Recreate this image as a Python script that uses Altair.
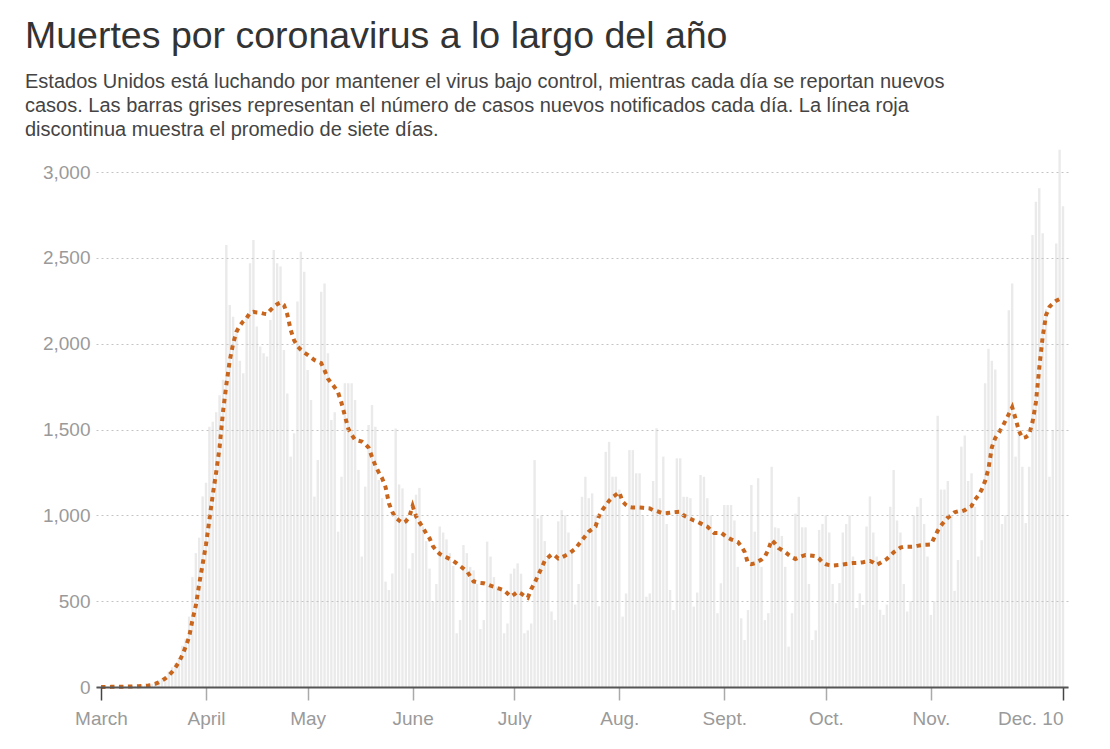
import json
import altair as alt
import pandas as pd

TITLE = "Muertes por coronavirus a lo largo del año"
SUBTITLE = [
    "Estados Unidos está luchando por mantener el virus bajo control, mientras cada día se reportan nuevos",
    "casos. Las barras grises representan el número de casos nuevos notificados cada día. La línea roja",
    "discontinua muestra el promedio de siete días.",
]

# x ticks: day index since March 1 and their labels
tick_days = [0, 31, 61, 92, 122, 153, 184, 214, 245, 284]
tick_labels = ["March", "April", "May", "June", "July", "Aug.", "Sept.", "Oct.", "Nov.", "Dec. 10"]
y_ticks = [0, 500, 1000, 1500, 2000, 2500, 3000]

# daily deaths, March 1 -> Dec 10 (one row per week, Sunday..Saturday)
daily_deaths = [
    0, 1, 1, 3, 2, 3, 2,
    3, 4, 6, 5, 8, 11, 9,
    12, 18, 23, 38, 52, 64, 90,
    115, 140, 170, 240, 280, 410, 640,
    780, 870, 1110, 1190, 1516, 1545, 1600,
    1700, 1790, 2575, 2225, 2157, 2060, 1900,
    1827, 2157, 2468, 2604, 2100, 1983, 1944,
    1925, 2138, 2545, 2468, 2449, 1963, 1710,
    1342, 1478, 2245, 2536, 2419, 1846, 1672,
    1109, 1322, 2303, 2351, 1944, 1555, 1600,
    905, 1225, 1770, 1770, 1770, 1672, 1264,
    760, 1167, 1526, 1643, 1516, 1206, 1100,
    614, 565, 661, 1506, 1180, 1157, 990,
    690, 780, 1120, 1160, 935, 850, 690,
    495, 600, 935, 900, 860, 780, 706,
    313, 390, 827, 780, 700, 680, 600,
    337, 390, 847, 760, 640, 585, 570,
    313, 370, 660, 690, 720, 660, 313,
    330, 370, 1322, 982, 1000, 850, 760,
    440, 390, 965, 1030, 1000, 900, 780,
    480, 600, 1108, 1225, 1100, 1128, 1000,
    470, 1000, 1370, 1428, 1225, 1225, 1150,
    410, 545, 1380, 1380, 1245, 1245, 1000,
    526, 545, 1200, 1507, 1100, 1342, 950,
    565, 448, 1332, 1332, 1108, 1108, 1100,
    468, 550, 1235, 1225, 1100, 1000, 900,
    430, 604, 1060, 1060, 1060, 970, 700,
    400, 274, 448, 1177, 905, 1216, 700,
    390, 430, 1283, 930, 925, 880, 700,
    235, 430, 1010, 1108, 930, 930, 600,
    274, 330, 915, 950, 1000, 900, 600,
    488, 605, 900, 950, 1000, 760, 460,
    545, 478, 935, 1110, 900, 760, 450,
    420, 480, 1050, 1264, 970, 900, 600,
    440, 500, 1000, 1050, 1100, 950, 760,
    420, 500, 1580, 1150, 1150, 1200, 1000,
    560, 740, 1400, 1465, 1200, 1245, 1050,
    760, 855, 1770, 1970, 1900, 1850, 1450,
    950, 1000, 2195, 2350, 1342, 1497, 1283,
    955, 1283, 2633, 2827, 2906, 2643, 2200,
    1225, 1497, 2584, 3130, 2800,
]

# seven-day average as drawn (dotted line)
seven_day_avg = [
    0, 0, 0, 1, 1, 1, 2,
    2, 3, 3, 4, 5, 6, 7,
    9, 12, 18, 27, 38, 50, 68,
    88, 115, 145, 185, 235, 290, 390,
    475, 600, 715, 830, 975, 1120, 1250,
    1395, 1600, 1760, 1900, 2000, 2070, 2105,
    2130, 2150, 2180, 2185, 2182, 2180, 2175,
    2172, 2195, 2215, 2230, 2240, 2225, 2170,
    2080, 2020, 1985, 1965, 1948, 1935, 1920,
    1905, 1895, 1887, 1845, 1795, 1770, 1745,
    1715, 1655, 1580, 1505, 1470, 1440, 1435,
    1430, 1415, 1395, 1340, 1290, 1250, 1216,
    1165, 1070, 1020, 985, 970, 955, 965,
    990, 1055, 995, 960, 930, 895, 866,
    820, 795, 775, 763, 755, 746, 735,
    720, 705, 690, 675, 645, 615, 610,
    606, 604, 598, 590, 584, 577, 570,
    563, 545, 527, 540, 555, 545, 530,
    520, 570, 605, 650, 690, 735, 755,
    772, 765, 748, 755, 765, 775, 790,
    805, 830, 855, 880, 905, 920, 935,
    995, 1030, 1058, 1085, 1105, 1120, 1135,
    1080, 1060, 1048, 1045, 1045, 1045, 1044,
    1042, 1040, 1030, 1025, 1018, 1012, 1013,
    1015, 1018, 1020, 1021, 1000, 989, 980,
    970, 963, 953, 943, 934, 915, 897,
    897, 900, 885, 870, 860, 853, 845,
    820, 788, 720, 715, 720, 732, 742,
    760, 800, 856, 835, 810, 798, 786,
    770, 755, 746, 755, 763, 769, 767,
    765, 762, 748, 725, 715, 710, 707,
    709, 711, 714, 717, 720, 722, 723,
    724, 727, 731, 734, 725, 711, 722,
    735, 746, 765, 785, 798, 812, 817,
    817, 817, 818, 822, 826, 828, 829,
    830, 870, 910, 940, 965, 987, 1000,
    1018, 1023, 1023, 1030, 1045, 1054, 1090,
    1115, 1150, 1200, 1272, 1397, 1450, 1480,
    1512, 1550, 1590, 1630, 1563, 1491, 1450,
    1455, 1470, 1543, 1657, 1860, 2040, 2167,
    2215, 2235, 2250, 2260, 2270,
]

df = pd.DataFrame({
    "day": list(range(len(daily_deaths))),
    "deaths": daily_deaths,
    "avg": seven_day_avg,
})

FONT = "Liberation Sans"
last_day = tick_days[-1]
label_expr = f"{json.dumps(tick_labels)}[indexof({json.dumps(tick_days)}, datum.value)]"

x_enc = alt.X(
    "day:Q",
    scale=alt.Scale(domain=[tick_days[0], last_day], nice=False, zero=False),
    axis=alt.Axis(
        values=tick_days,
        labelExpr=label_expr,
        title=None,
        grid=False,
        domainColor="#555555",
        domainWidth=2,
        tickColor={"condition": {"test": f"datum.value == {tick_days[0]} || datum.value == {last_day}", "value": "#444444"}, "value": "#aaaaaa"},
        tickSize=13,
        tickWidth=1.5,
        labelAlign={"condition": {"test": f"datum.value == {last_day}", "value": "right"}, "value": "center"},
        labelFont=FONT,
        labelFontSize=19,
        labelColor="#9a9a9a",
        labelPadding=9,
        zindex=1,
    ),
)

y_scale = alt.Scale(domain=[0, 3000], nice=False)
y_axis = alt.Axis(
    values=y_ticks,
    format=",.0f",
    title=None,
    domain=False,
    ticks=False,
    gridDash=[2, 3],
    gridColor="#c4c4c4",
    gridWidth=1,
    labelFont=FONT,
    labelFontSize=19,
    labelColor="#9a9a9a",
    labelPadding=6,
    zindex=1,
)

bars = alt.Chart(df).mark_bar(size=2.4, color="#eaeaea").encode(
    x=x_enc,
    y=alt.Y("deaths:Q", scale=y_scale, axis=y_axis),
)

line = alt.Chart(df).mark_line(
    color="#c9661e", strokeWidth=4, strokeDash=[4.5, 4.5]
).encode(
    x="day:Q",
    y="avg:Q",
)

chart = alt.layer(bars, line).properties(
    width=972,
    height=515,
    autosize=alt.AutoSizeParams(type="none"),
    padding={"left": 96, "top": 172, "right": 42, "bottom": 62},
    title=alt.TitleParams(
        text=TITLE,
        subtitle=SUBTITLE,
        anchor="start",
        frame="group",
        dx=-71,
        offset=10,
        font=FONT,
        fontSize=37.5,
        fontWeight="normal",
        color="#333333",
        subtitleFont=FONT,
        subtitleFontSize=20,
        subtitleColor="#444444",
        subtitleLineHeight=24,
        subtitlePadding=16,
    ),
).configure(background="white").configure_view(strokeWidth=0)

chart.save("out.html", embed_options={"renderer": "svg", "actions": False})
